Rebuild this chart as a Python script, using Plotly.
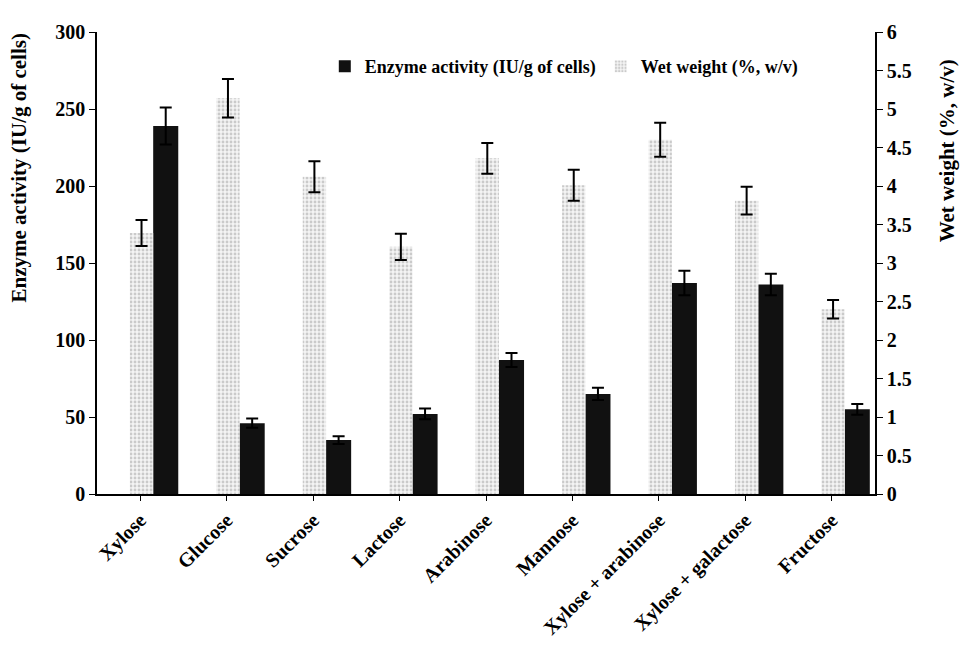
import plotly.graph_objects as go

# Carbon source screening: enzyme activity and wet cell weight
categories = ["Xylose", "Glucose", "Sucrose", "Lactose", "Arabinose", "Mannose",
              "Xylose + arabinose", "Xylose + galactose", "Fructose"]
enzyme_activity = [239, 46, 35, 52, 87, 65, 137, 136, 55]
enzyme_sd = [12, 3, 2.5, 3.5, 4.5, 4, 8, 7, 3.5]
wet_weight = [3.39, 5.14, 4.12, 3.21, 4.36, 4.01, 4.60, 3.81, 2.40]
wet_sd = [0.17, 0.25, 0.20, 0.17, 0.20, 0.20, 0.22, 0.18, 0.12]

left_ticks = [0, 50, 100, 150, 200, 250, 300]
right_ticks = [0, 0.5, 1, 1.5, 2, 2.5, 3, 3.5, 4, 4.5, 5, 5.5, 6]
right_ticktext = ["0", "0.5", "1", "1.5", "2", "2.5", "3", "3.5", "4", "4.5", "5", "5.5", "6"]

FONT = "Liberation Serif"

fig = go.Figure()

fig.add_trace(go.Bar(
    x=categories, y=enzyme_activity, name="Enzyme activity (IU/g of cells)",
    yaxis="y", offset=0.15, width=0.29,
    marker=dict(color="#111111", line=dict(width=0)),
    error_y=dict(type="data", array=enzyme_sd, color="black", thickness=2, width=6),
))

fig.add_trace(go.Bar(
    x=categories, y=wet_weight, name="Wet weight (%, w/v)",
    yaxis="y2", offset=-0.12, width=0.27,
    marker=dict(color="#e8e8e8", line=dict(width=0),
                pattern=dict(shape=".", fgcolor="#a0a0a0", bgcolor="#f4f4f4",
                             size=4, solidity=0.4)),
    error_y=dict(type="data", array=wet_sd, color="black", thickness=2, width=6),
))

fig.update_layout(
    width=960, height=648,
    margin=dict(l=97, r=85, t=32, b=154),
    paper_bgcolor="white", plot_bgcolor="white",
    font=dict(family=FONT, color="black"),
    showlegend=True,
    legend=dict(orientation="h", x=0.6, xanchor="center", y=0.925, yanchor="middle",
                font=dict(family=FONT, size=18, weight="bold"),
                bgcolor="rgba(0,0,0,0)", itemwidth=30, tracegroupgap=0),
    xaxis=dict(
        range=[-0.5, 8.5], showline=True, linecolor="black", linewidth=1.5,
        ticks="outside", ticklen=5, tickcolor="black", tickangle=-45,
        tickfont=dict(family=FONT, size=20, weight="bold"), showgrid=False,
        automargin=False,
    ),
    yaxis=dict(
        range=[0, 300], tickvals=left_ticks, showline=True, linecolor="black",
        linewidth=1.5, ticks="outside", ticklen=6, tickcolor="black",
        tickfont=dict(family=FONT, size=20, weight="bold"), showgrid=False,
        zeroline=False, automargin=False,
    ),
    yaxis2=dict(
        range=[0, 6], tickvals=right_ticks, ticktext=right_ticktext, overlaying="y",
        side="right", showline=True, linecolor="black", linewidth=1.5,
        ticks="outside", ticklen=6, tickcolor="black",
        tickfont=dict(family=FONT, size=20, weight="bold"), showgrid=False,
        zeroline=False, automargin=False,
    ),
    annotations=[
        dict(text="Enzyme activity (IU/g of cells)", textangle=-90, xref="paper", yref="paper",
             x=-0.1, y=0.705, xanchor="center", yanchor="middle", showarrow=False,
             font=dict(family=FONT, size=21, weight="bold")),
        dict(text="Wet weight (%, w/v)", textangle=-90, xref="paper", yref="paper",
             x=1.092, y=0.743, xanchor="center", yanchor="middle", showarrow=False,
             font=dict(family=FONT, size=21, weight="bold")),
    ],
)

fig.write_html("out.html")
